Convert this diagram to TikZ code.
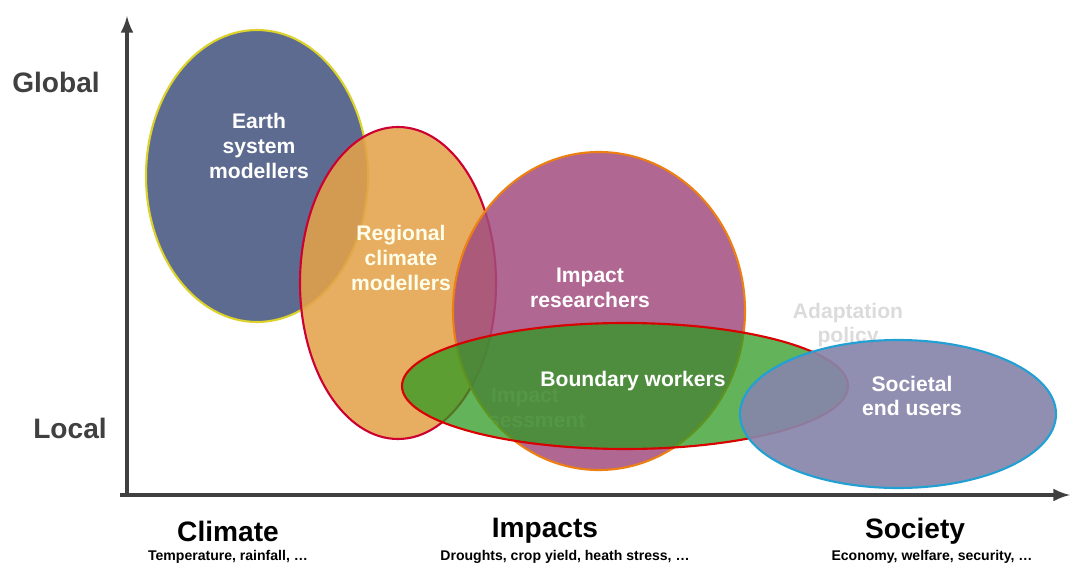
\documentclass[tikz,border=0pt]{standalone}
\usepackage{fontspec}
\setmainfont{Liberation Sans}
\usetikzlibrary{shapes.geometric}

\definecolor{axisgray}{HTML}{404040}
\definecolor{earthblue}{HTML}{5D6B90}
\definecolor{regorange}{HTML}{E4A24A}
\definecolor{imppurple}{HTML}{A24C7E}
\definecolor{bndgreen}{HTML}{2E9A22}
\definecolor{socgray}{HTML}{8886AA}

\tikzstyle{actor} = [ellipse, draw, line width=1.2pt, inner sep=0pt]
\tikzstyle{actor-label} = [text=white, font=\bfseries\fontsize{12}{14}\selectfont,
                           align=center]
\tikzstyle{ghost} = [text=gray!28, font=\bfseries\fontsize{12}{14}\selectfont,
                     align=center]
\tikzstyle{axis} = [-latex, line width=2.2pt, draw=axisgray]
\tikzstyle{axis-label} = [text=axisgray, font=\bfseries\fontsize{16}{18}\selectfont]
\tikzstyle{sector} = [text=black, font=\bfseries\fontsize{16}{18}\selectfont]
\tikzstyle{sector-sub} = [text=black, font=\bfseries\fontsize{8}{10}\selectfont]

\begin{document}
\begin{tikzpicture}[x=0.02cm, y=-0.02cm]
  \useasboundingbox (0,0) rectangle (1072,568);

  %% Axes
  \coordinate (origin) at (127,495);
  \coordinate (ytop) at (127,16);
  \coordinate (xend) at (1070,495);
  \draw [axis] (origin) to (ytop);
  \draw [axis] ([xshift=-4]origin) to (xend);

  \node (global) [axis-label] at (56,82) {Global};
  \node (local) [axis-label] at (70,428) {Local};

  %% Groups of actors (sizes in px of the drawing)
  \node (earth) [actor, fill=earthblue, draw=yellow!60!olive!80,
                 minimum width=222*0.02cm, minimum height=292*0.02cm] at (257,176) {};
  \node (regional) [actor, fill=regorange, fill opacity=0.88, draw=purple!80!red,
                    minimum width=196*0.02cm, minimum height=312*0.02cm] at (398,283) {};
  \node (impact) [actor, fill=imppurple, fill opacity=0.85, draw=orange!70!brown,
                  minimum width=292*0.02cm, minimum height=318*0.02cm] at (599,311) {};

  \node (adaptation) [ghost] at (848,325) {Adaptation\\policy};
  \node (assessment) [ghost, text=white, text opacity=0.25] at (525,408) {Impact\\assessment};

  \node (boundary) [actor, fill=bndgreen, fill opacity=0.75, draw=red!85!black,
                    minimum width=446*0.02cm, minimum height=126*0.02cm] at (625,386) {};
  \node (societal) [actor, fill=socgray, fill opacity=0.92, draw=cyan!70!teal,
                    minimum width=316*0.02cm, minimum height=148*0.02cm] at (898,414) {};

  \node (earth-text) [actor-label] at (259,146) {Earth\\system\\modellers};
  \node (regional-text) [actor-label, text=yellow!8] at (401,258) {Regional\\climate\\modellers};
  \node (impact-text) [actor-label] at (590,288) {Impact\\researchers};
  \node (boundary-text) [actor-label] at (633,381) {Boundary workers};
  \node (societal-text) [actor-label] at (912,396) {Societal\\end users};

  %% Sectors along the horizontal axis
  \node (climate) [sector] at (228,531) {Climate};
  \node (climate-sub) [sector-sub] at (228,557) {Temperature, rainfall, \dots};
  \node (impacts) [sector] at (545,531) {Impacts};
  \node (impacts-sub) [sector-sub] at (565,557) {Droughts, crop yield, heath stress, \dots};
  \node (society) [sector] at (915,531) {Society};
  \node (society-sub) [sector-sub] at (932,557) {Economy, welfare, security, \dots};
\end{tikzpicture}
\end{document}
